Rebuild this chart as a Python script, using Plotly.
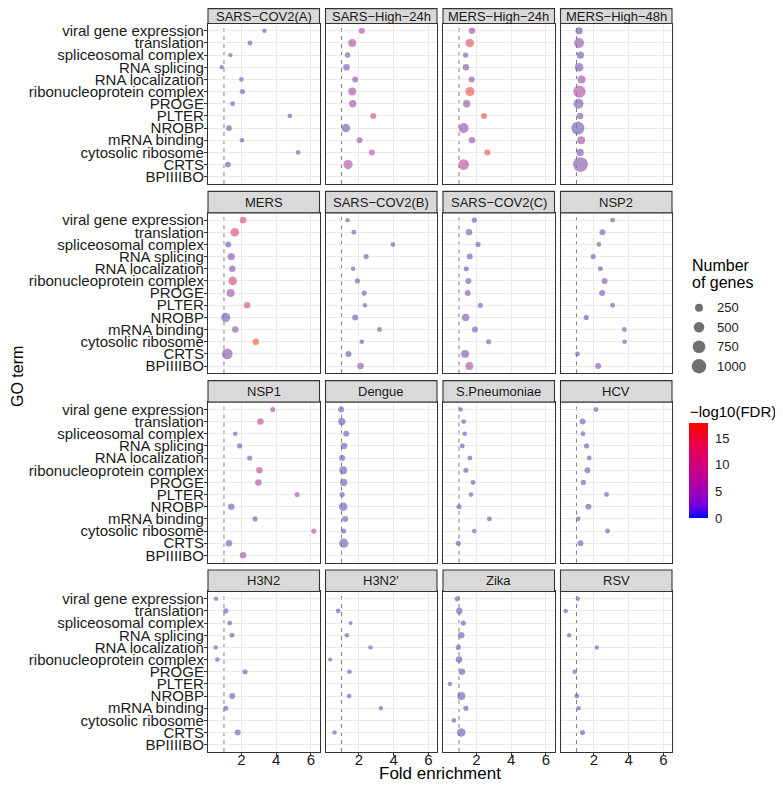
import plotly.graph_objects as go

# ---------------- data ----------------
go_terms = ["viral gene expression", "translation", "spliceosomal complex", "RNA splicing",
            "RNA localization", "ribonucleoprotein complex", "PROGE", "PLTER", "NROBP",
            "mRNA binding", "cytosolic ribosome", "CRTS", "BPIIIIBO"]

panels = ["SARS−COV2(A)", "SARS−High−24h", "MERS−High−24h", "MERS−High−48h",
          "MERS", "SARS−COV2(B)", "SARS−COV2(C)", "NSP2",
          "NSP1", "Dengue", "S.Pneumoniae", "HCV",
          "H3N2", "H3N2'", "Zika", "RSV"]

N = None
fold_enrichment = [
    [3.33, 2.50, 1.37, 0.87, 2.00, 2.06, 1.50, 4.79, 1.29, 2.04, 5.27, 1.23, N],
    [2.17, 1.62, 1.35, 1.29, 1.79, 1.62, 1.65, 2.83, 1.25, 2.04, 2.75, 1.38, N],
    [1.75, 1.62, 1.38, 1.40, 1.73, 1.63, 1.44, 2.44, 1.27, 1.75, 2.63, 1.27, N],
    [1.15, 1.15, 1.23, 1.15, 1.29, 1.17, 1.12, 1.21, 1.08, 1.27, 1.21, 1.23, N],
    [2.10, 1.62, 1.25, 1.42, 1.48, 1.50, 1.38, 2.33, 1.10, 1.65, 2.83, 1.19, N],
    [1.35, 1.71, 3.96, 2.42, 1.67, 1.92, 2.31, 2.35, 1.79, 3.19, 2.17, 1.40, 2.10],
    [1.88, 1.58, 2.10, 1.62, 1.42, 1.54, 1.50, 2.23, 1.38, 1.92, 2.71, 1.35, 1.60],
    [3.08, 2.50, 2.29, 1.96, 2.38, 2.62, 2.48, 3.08, 1.56, 3.75, 3.77, 1.06, 2.25],
    [3.81, 3.10, 1.65, 1.90, 2.48, 3.04, 2.98, 5.21, 1.42, 2.79, 6.17, 1.29, 2.10],
    [0.98, 1.02, 1.27, 1.15, 1.04, 1.10, 1.13, 1.04, 1.10, 1.21, 1.12, 1.13, N],
    [1.10, 1.27, 1.33, 1.19, 1.63, 1.40, 1.81, 1.69, 1.00, 2.75, 1.88, 0.96, N],
    [2.12, 1.35, 1.37, 1.58, 1.73, 1.63, 1.40, 2.73, 1.69, 1.10, 2.79, 1.23, N],
    [0.54, 1.10, 1.33, 1.46, 0.52, 0.62, 2.21, N, 1.48, 1.10, N, 1.79, N],
    [N, 0.81, 1.52, 1.31, 2.67, 0.35, 1.46, N, 1.44, 3.27, N, 0.60, N],
    [0.90, 1.02, 1.25, 1.13, 0.96, 1.00, 1.17, 0.48, 1.13, 1.40, 0.71, 1.13, N],
    [1.08, 0.38, N, 0.58, 2.17, N, 0.90, N, 1.02, 1.12, N, 1.35, N],
]

gene_counts = [
    [50, 70, 50, 50, 60, 90, 70, 60, 110, 60, 60, 110, N],
    [120, 250, 100, 160, 120, 250, 200, 120, 300, 120, 120, 350, N],
    [150, 300, 90, 150, 120, 350, 200, 120, 420, 150, 120, 500, N],
    [200, 420, 200, 300, 250, 700, 420, 150, 800, 250, 200, 1050, N],
    [150, 300, 120, 200, 150, 300, 250, 150, 350, 150, 150, 500, N],
    [50, 70, 70, 80, 60, 80, 80, 60, 120, 70, 60, 120, 150],
    [80, 150, 80, 120, 80, 120, 120, 80, 200, 120, 80, 250, 250],
    [70, 120, 60, 80, 70, 120, 120, 70, 80, 70, 60, 70, 120],
    [80, 150, 60, 80, 80, 150, 150, 80, 150, 80, 80, 150, 150],
    [120, 200, 120, 150, 120, 250, 200, 80, 300, 120, 80, 350, N],
    [50, 70, 60, 70, 70, 80, 70, 60, 80, 70, 60, 80, N],
    [70, 120, 70, 80, 70, 120, 80, 70, 120, 60, 70, 120, N],
    [50, 80, 70, 70, 50, 60, 80, N, 120, 80, N, 120, N],
    [N, 60, 40, 60, 50, 40, 60, N, 60, 50, N, 50, N],
    [80, 150, 80, 150, 80, 150, 150, 50, 250, 80, 60, 300, N],
    [50, 50, N, 50, 50, N, 60, N, 70, 60, N, 80, N],
]

neg_log10_fdr = [
    [2, 2, 1.5, 1, 1.5, 2, 1.5, 1.5, 2, 1.5, 1.5, 2, N],
    [9, 9, 3, 4, 5, 9, 8, 11, 4, 7, 10, 9, N],
    [8, 14, 3, 6, 7, 16, 7, 15, 6, 7, 16, 10, N],
    [3, 7, 4, 4, 7, 9, 4, 4, 3, 7, 3, 5, N],
    [12, 13, 3, 6, 6, 12, 7, 12, 2, 7, 17, 6, N],
    [2, 3, 3, 3, 2, 3, 3, 2, 3, 3, 2, 3, 5],
    [3, 4, 3, 3, 3, 4, 4, 4, 4, 4, 4, 5, 9],
    [3, 4, 3, 3, 3, 5, 4, 3, 2, 4, 3, 1, 5],
    [8, 10, 3, 3, 4, 10, 9, 9, 3, 4, 10, 3, 8],
    [1, 1.5, 1, 1, 1, 1.5, 1.5, 1, 1.5, 1, 1, 1.5, N],
    [1, 1, 1, 1, 1, 1, 1, 1, 1, 1, 1, 1, N],
    [1.5, 1.5, 1, 1, 1, 1.5, 1, 1, 1.5, 1, 1, 1.5, N],
    [1, 1, 1, 1, 1, 1, 1, N, 1, 1, N, 1, N],
    [N, 0.5, 0.5, 0.5, 0.5, 0.5, 0.5, N, 0.5, 0.5, N, 0.5, N],
    [1, 1, 1, 1, 1, 1, 1, 1, 1, 1, 1, 1, N],
    [0.5, 0.5, N, 0.5, 0.5, N, 0.5, N, 0.5, 0.5, N, 0.5, N],
]

size_legend_values = [250, 500, 750, 1000]
fdr_ticks = [0, 5, 10, 15]
fdr_max = 17.8

# ---------------- styling helpers ----------------
OFF = 8                      # page body margin added by the browser
W, H = 783 - OFF, 785 - OFF  # figure size so that it fits the window
FONT = "Liberation Sans, Arial, sans-serif"


def X(px):
    return (px - OFF) / W


def Y(py):
    return 1 - (py - OFF) / H


def size_px(n):
    return 1.5 + 0.41 * (n ** 0.5)


dot_scale = [[0.0, "#6C6EBC"], [0.15, "#7A6AB8"], [0.35, "#9863B4"], [0.5, "#B45EA8"],
             [0.65, "#D05C94"], [0.8, "#E65E6C"], [1.0, "#F26A3A"]]
bar_scale = [[0.0, "#0000FF"], [0.125, "#7300E0"], [0.25, "#9700C0"], [0.5, "#CA0089"],
             [0.75, "#E8004F"], [1.0, "#FF0000"]]

fig = go.Figure()
layout = {}
shapes = []
annotations = []

for i, name in enumerate(panels):
    r, c = divmod(i, 4)
    ax = "" if i == 0 else str(i + 1)
    x0 = 208 + c * 117.5
    x1 = x0 + 111.5
    top = 2 + r * 189.33
    strip_b = top + 21.5
    bot = top + 182
    strip_top = max(top, OFF + 0.6)
    text_y = max((top + strip_b) / 2, OFF + 8)

    xs = fold_enrichment[i]
    ns = gene_counts[i]
    cs = neg_log10_fdr[i]
    fig.add_trace(go.Scatter(
        x=xs, y=go_terms, mode="markers",
        marker=dict(size=[size_px(n) if n else 0 for n in ns],
                    color=[v if v is not None else 0 for v in cs],
                    colorscale=dot_scale, cmin=0, cmax=fdr_max, line=dict(width=0)),
        xaxis="x" + ax, yaxis="y" + ax, showlegend=False, hoverinfo="skip"))

    layout["xaxis" + ax] = dict(
        domain=[X(x0), X(x1)], anchor="y" + ax, range=[0.08, 6.5],
        tickmode="array", tickvals=[2, 4, 6], showticklabels=(r == 3),
        ticks="outside" if r == 3 else "", ticklen=3, tickcolor="#333333",
        ticklabelstandoff=-9,
        tickfont=dict(size=15, color="#1a1a1a"),
        showgrid=True, gridcolor="#EBEBEB", gridwidth=1, zeroline=False,
        showline=True, mirror=True, linecolor="#333333", linewidth=1.1, automargin=False)
    layout["yaxis" + ax] = dict(
        domain=[Y(bot), Y(strip_b)], anchor="x" + ax, type="category",
        categoryorder="array", categoryarray=go_terms, range=[12.6, -0.6],
        tickmode="array", tickvals=go_terms, ticktext=go_terms,
        showticklabels=(c == 0), ticks="outside" if c == 0 else "", ticklen=3,
        ticklabelstandoff=-3,
        tickcolor="#333333", tickfont=dict(size=15, color="#1a1a1a"),
        showgrid=True, gridcolor="#EBEBEB", gridwidth=1, zeroline=False,
        showline=True, mirror=True, linecolor="#333333", linewidth=1.1, automargin=False)

    shapes.append(dict(type="line", xref="x" + ax, yref="y" + ax + " domain",
                       x0=1, x1=1, y0=0, y1=1, layer="below",
                       line=dict(color="#7F7F7F", width=1, dash="4px,4px")))
    shapes.append(dict(type="rect", xref="paper", yref="paper",
                       x0=X(x0), x1=X(x1), y0=Y(strip_b), y1=Y(strip_top),
                       fillcolor="#D9D9D9", line=dict(color="#333333", width=1.1)))
    annotations.append(dict(text=name, xref="paper", yref="paper",
                            x=X((x0 + x1) / 2), y=Y(text_y),
                            xanchor="center", yanchor="middle", showarrow=False,
                            font=dict(size=13, color="#1a1a1a")))

# size legend on its own small axis
layout["xaxis17"] = dict(domain=[X(690), X(708)], anchor="y17", range=[0, 1], visible=False)
layout["yaxis17"] = dict(domain=[Y(376), Y(298)], anchor="x17", range=[3.5, -0.5], visible=False)
fig.add_trace(go.Scatter(
    x=[0.5] * len(size_legend_values), y=list(range(len(size_legend_values))), mode="markers",
    marker=dict(size=[size_px(v) for v in size_legend_values], color="#333333", line=dict(width=0)),
    xaxis="x17", yaxis="y17", showlegend=False, hoverinfo="skip"))
for k, v in enumerate(size_legend_values):
    annotations.append(dict(text=str(v), xref="paper", yref="paper", x=X(715),
                            y=Y(307.75 + 19.5 * k),
                            xanchor="left", yanchor="middle", showarrow=False,
                            font=dict(size=13, color="#1a1a1a")))

# colour bar (dummy trace, point kept out of range)
fig.add_trace(go.Scatter(
    x=[-5], y=[0], mode="markers",
    marker=dict(color=[0], colorscale=bar_scale, cmin=0, cmax=fdr_max, showscale=True,
                colorbar=dict(x=X(689), xanchor="left", y=Y(470.5), yanchor="middle",
                              len=95, lenmode="pixels", thickness=19, thicknessmode="pixels",
                              outlinewidth=0, xpad=0, ypad=0,
                              tickmode="array", tickvals=fdr_ticks, ticks="outside",
                              ticklen=5, tickcolor="rgba(0,0,0,0)",
                              tickfont=dict(size=13, color="#1a1a1a"))),
    xaxis="x17", yaxis="y17", showlegend=False, hoverinfo="skip"))

# titles
annotations += [
    dict(text="Number", xref="paper", yref="paper", x=X(690), y=Y(265), xanchor="left",
         yanchor="middle", showarrow=False, font=dict(size=16, color="#000000")),
    dict(text="of genes", xref="paper", yref="paper", x=X(690), y=Y(282), xanchor="left",
         yanchor="middle", showarrow=False, font=dict(size=16, color="#000000")),
    dict(text="−log10(FDR)", xref="paper", yref="paper", x=X(688), y=Y(411), xanchor="left",
         yanchor="middle", showarrow=False, font=dict(size=15, color="#000000")),
    dict(text="Fold enrichment", xref="paper", yref="paper", x=X(440), y=Y(773),
         xanchor="center", yanchor="middle", showarrow=False, font=dict(size=17, color="#000000")),
    dict(text="GO term", xref="paper", yref="paper", x=X(18), y=Y(377), textangle=-90,
         xanchor="center", yanchor="middle", showarrow=False, font=dict(size=16, color="#000000")),
]

fig.update_layout(
    template="none", width=W, height=H,
    margin=dict(l=0, r=0, t=0, b=0, pad=0),
    paper_bgcolor="white", plot_bgcolor="white",
    font=dict(family=FONT, color="#1a1a1a"),
    shapes=shapes, annotations=annotations, showlegend=False,
    **layout)

fig.write_html("out.html")
